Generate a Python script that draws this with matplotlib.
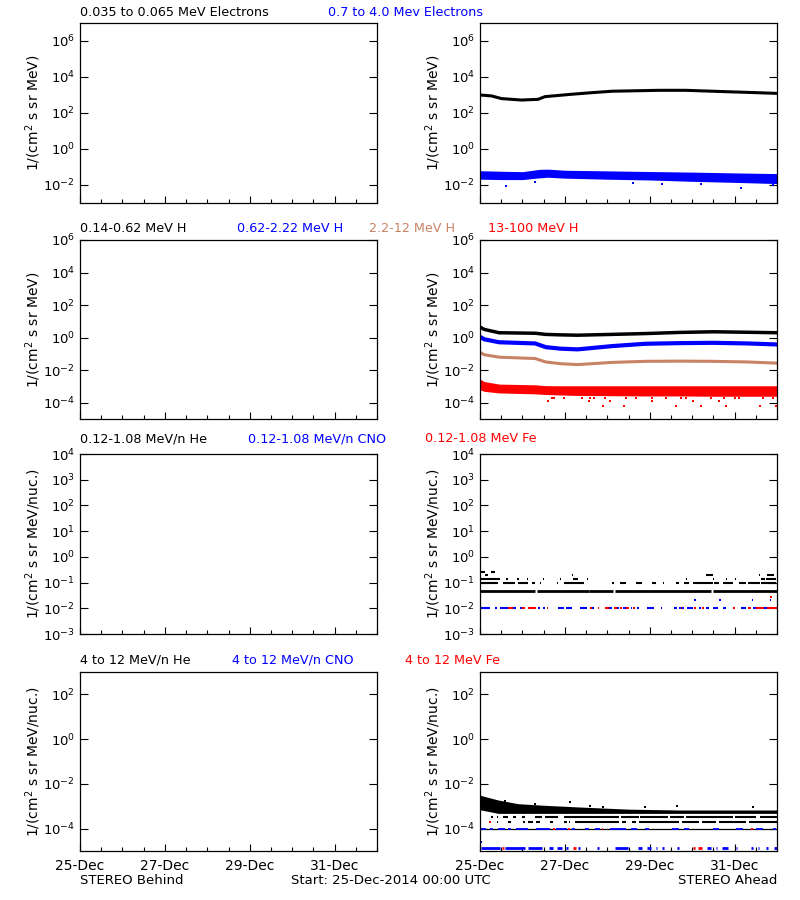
import matplotlib
matplotlib.use("Agg")
import matplotlib.pyplot as plt
from matplotlib.ticker import MultipleLocator, NullLocator

BLUE = "#0000ff"
RED = "#ff0000"
BROWN = "#c88264"

# x axis: days since 25-Dec-2014 00:00 UTC
xtick_days = [0, 2, 4, 6]
xtick_labels = ["25-Dec", "27-Dec", "29-Dec", "31-Dec"]

row_titles = [
    ["0.035 to 0.065 MeV Electrons", "0.7 to 4.0 Mev Electrons"],
    ["0.14-0.62 MeV H", "0.62-2.22 MeV H", "2.2-12 MeV H", "13-100 MeV H"],
    ["0.12-1.08 MeV/n He", "0.12-1.08 MeV/n CNO", "0.12-1.08 MeV Fe"],
    ["4 to 12 MeV/n He", "4 to 12 MeV/n CNO", "4 to 12 MeV Fe"],
]
row_title_colors = [
    ["black", BLUE],
    ["black", BLUE, BROWN, RED],
    ["black", BLUE, RED],
    ["black", BLUE, RED],
]
row_ylabels = ["1/(cm$^2$ s sr MeV)", "1/(cm$^2$ s sr MeV)",
               "1/(cm$^2$ s sr MeV/nuc.)", "1/(cm$^2$ s sr MeV/nuc.)"]
row_ylims = [(1e-3, 1e7), (1e-5, 1e6), (1e-3, 1e4), (1e-5, 1e3)]
row_yexp = [[-2, 0, 2, 4, 6], [-4, -2, 0, 2, 4, 6],
            [-3, -2, -1, 0, 1, 2, 3, 4], [-4, -2, 0, 2]]

# ---- row 1: electrons (STEREO Ahead) ----
e_lo_days = [0.0, 0.27, 0.51, 0.98, 1.37, 1.53, 2.16, 2.64, 3.11, 4.22, 4.85, 5.72, 6.51, 7.0]
e_lo_flux = [1000, 890, 630, 525, 575, 810, 1100, 1350, 1620, 1820, 1820, 1550, 1350, 1230]

e_hi_days = [0.0, 0.5, 1.0, 1.4, 1.6, 2.0, 3.0, 4.0, 5.0, 6.0, 7.0]
e_hi_upper = [0.062, 0.058, 0.055, 0.074, 0.076, 0.066, 0.061, 0.056, 0.052, 0.047, 0.043]
e_hi_lower = [0.021, 0.020, 0.020, 0.025, 0.027, 0.024, 0.021, 0.019, 0.016, 0.014, 0.012]
e_hi_out_days = [0.62, 1.30, 3.60, 4.28, 5.20, 6.14, 6.90]
e_hi_out_flux = [0.0089, 0.014, 0.013, 0.012, 0.012, 0.0066, 0.010]

# ---- row 2: protons ----
h_days = [0.0, 0.1, 0.45, 1.3, 1.55, 1.9, 2.3, 3.1, 3.9, 4.7, 5.5, 6.3, 7.0]
h1_flux = [4.5, 3.2, 2.0, 1.86, 1.58, 1.48, 1.41, 1.58, 1.78, 2.09, 2.29, 2.14, 2.0]
h2_flux = [1.12, 0.79, 0.52, 0.44, 0.26, 0.21, 0.19, 0.30, 0.42, 0.46, 0.48, 0.44, 0.38]
h3_flux = [0.126, 0.089, 0.063, 0.052, 0.032, 0.025, 0.022, 0.030, 0.035, 0.036, 0.035, 0.032, 0.027]
h4_upper = [2.8e-3, 2.0e-3, 1.4e-3, 1.26e-3, 1.12e-3, 1.1e-3, 1.1e-3, 1.1e-3, 1.1e-3, 1.1e-3, 1.1e-3, 1.1e-3, 1.1e-3]
h4_lower = [6.3e-4, 5.0e-4, 4.0e-4, 3.5e-4, 3.2e-4, 3.0e-4, 2.8e-4, 2.7e-4, 2.6e-4, 2.6e-4, 2.5e-4, 2.5e-4, 2.5e-4]
h4_out_days = [1.69, 1.75, 1.97, 2.40, 2.60, 2.68, 2.95, 3.43, 3.67, 4.06, 4.38, 4.73, 4.85,
               5.44, 5.76, 6.00, 6.11, 6.67, 6.90,
               1.61, 2.56, 3.07, 4.06, 5.01, 5.64,
               2.89, 3.40, 4.61, 5.21, 5.80, 6.59, 6.98]
h4_out_flux = [1.9e-4] * 19 + [1.2e-4] * 6 + [6e-5] * 7

# ---- row 3: 0.12-1.08 MeV/n ions, quantised count levels as (start, end) day segments ----
he3_solid_level = 0.048
he3_solid = [(0.01, 1.30), (1.34, 2.56), (2.58, 3.13), (3.18, 5.44), (5.48, 7.0)]
he3_dots_level = 0.093
he3_dots = [(0.03, 0.43), (0.55, 0.82), (0.90, 1.14), (1.22, 1.30), (1.41, 1.44), (1.81, 1.85),
            (1.97, 2.44), (3.11, 3.15), (3.31, 3.43), (3.67, 3.82), (4.06, 4.14), (4.32, 4.34),
            (4.61, 4.69), (4.81, 4.93), (5.01, 5.48), (5.52, 5.64), (5.72, 5.96), (6.11, 6.27),
            (6.31, 6.59), (6.63, 6.98)]
he3_sparse_level1 = 0.14
he3_sparse1 = [(0.03, 0.47), (0.62, 0.65), (0.88, 0.92), (1.10, 1.14), (1.49, 1.52), (1.89, 1.92),
               (2.20, 2.32), (2.52, 2.55), (4.85, 4.88), (5.48, 5.51), (5.80, 5.83), (6.00, 6.03),
               (6.63, 6.71), (6.75, 6.98)]
he3_sparse_level2 = 0.19
he3_sparse2 = [(0.11, 0.19), (2.16, 2.19), (5.32, 5.48), (6.57, 6.60), (6.76, 6.94)]
he3_sparse_level3 = 0.26
he3_sparse3 = [(0.03, 0.11), (0.27, 0.35)]

cno3_level = 0.0102
cno3 = [(0.03, 0.23), (0.35, 0.39), (0.47, 0.66), (0.78, 0.86), (0.94, 0.98), (1.37, 1.41),
        (1.49, 1.53), (1.85, 1.97), (2.02, 2.18), (2.36, 2.52), (2.64, 2.68), (2.99, 3.11),
        (3.23, 3.27), (3.37, 3.44), (3.55, 3.59), (3.70, 3.74), (3.94, 4.10), (4.26, 4.30),
        (4.57, 4.65), (4.69, 4.81), (4.89, 5.01), (5.17, 5.21), (5.32, 5.40), (5.48, 5.60),
        (5.72, 5.80), (6.15, 6.27), (6.43, 6.59), (6.70, 6.76)]
fe3 = [(0.66, 0.78), (0.98, 1.06), (1.12, 1.33), (1.57, 1.61), (2.60, 2.64), (2.77, 2.81),
       (2.95, 3.03), (3.15, 3.23), (3.31, 3.35), (3.45, 3.50), (3.60, 3.65), (4.73, 4.77),
       (5.05, 5.09), (5.24, 5.28), (5.96, 6.00), (6.31, 6.39), (6.51, 6.70), (6.76, 7.0)]
cno3_level2 = 0.021
cno3_high = [(5.05, 5.08), (5.64, 5.67), (6.41, 6.44), (6.84, 6.87)]
fe3_level2 = 0.027
fe3_high = [(6.84, 6.89)]

# ---- row 4: 4-12 MeV/n ions ----
he4_days = [0.0, 0.03, 0.43, 0.90, 1.53, 2.32, 3.51, 4.69, 7.0]
he4_upper = [3.2e-3, 3.0e-3, 1.9e-3, 1.3e-3, 1.1e-3, 9.3e-4, 7.4e-4, 6.8e-4, 6.8e-4]
he4_lower = [6.8e-4, 6.8e-4, 4.8e-4, 4.8e-4, 4.8e-4, 4.8e-4, 4.8e-4, 4.8e-4, 4.8e-4]
he4_out_days = [0.58, 1.30, 2.13, 2.60, 2.90, 3.90, 4.65, 6.43]
he4_out_flux = [1.7e-3, 1.3e-3, 1.6e-3, 1.05e-3, 9e-4, 9.5e-4, 1.05e-3, 9e-4]
he4_row1_level = 3.2e-4
he4_row1 = [(0.27, 0.31), (0.39, 0.43), (0.55, 0.66), (0.78, 0.86), (0.98, 1.06), (1.30, 1.45),
            (1.53, 1.85), (1.97, 3.27), (3.33, 3.74), (3.78, 4.42), (4.47, 4.81), (4.85, 5.96),
            (6.02, 6.51), (6.59, 7.0)]
he4_row2_level = 2.0e-4
he4_row2 = [(0.39, 0.43), (0.51, 0.53), (0.66, 0.74), (1.02, 1.06), (1.14, 1.26), (1.33, 1.41),
            (1.65, 1.73), (1.97, 2.05), (2.09, 2.12), (2.24, 3.27), (3.35, 3.43), (3.59, 3.67),
            (3.74, 4.69), (4.77, 5.17), (5.24, 5.56), (5.64, 6.27), (6.35, 7.0)]
base4_level = 1.0e-4
cno4_base = [(0.02, 0.15), (0.23, 0.31), (0.43, 0.58), (0.66, 0.74), (0.86, 1.14), (1.33, 1.65),
             (1.78, 2.05), (2.16, 2.24), (2.48, 2.56), (2.72, 2.84), (3.07, 3.43), (3.55, 3.70),
             (3.90, 3.98), (4.53, 4.69), (4.81, 4.93), (5.48, 5.64), (6.03, 6.19), (6.51, 6.67),
             (6.90, 6.98)]
fe4_base = [(1.73, 1.77), (2.07, 2.11), (2.88, 2.91), (6.39, 6.43)]
low4_level = 1.3e-5
cno4_low = [(0.02, 0.47), (0.58, 1.06), (1.12, 1.45), (1.63, 1.73), (1.81, 1.93), (2.02, 2.07),
            (2.32, 2.36), (2.76, 2.80), (3.19, 3.49), (3.73, 3.82), (3.94, 4.02), (4.14, 4.17),
            (4.30, 4.33), (4.65, 4.68), (5.34, 5.44), (5.56, 5.59), (5.70, 5.84), (6.03, 6.06),
            (6.39, 6.43), (6.55, 6.58), (6.75, 6.78), (6.94, 7.0)]
fe4_low = [(0.51, 0.57), (2.20, 2.26), (5.01, 5.07), (5.13, 5.24)]
cno4_pt_day, cno4_pt_flux = 0.02, 2.6e-5
fe4_pt_day, fe4_pt_flux = 0.23, 2.0e-4


def draw_segments(ax, level, segs, color, lw=1.5):
    starts = [s for s, e in segs]
    ends = [e for s, e in segs]
    ax.hlines([level] * len(segs), starts, ends, colors=color, linewidth=lw)


def style_axes(ax, row, bottom_row):
    ax.set_yscale("log")
    ax.set_xlim(0, 7)
    ax.set_ylim(*row_ylims[row])
    exps = row_yexp[row]
    ax.set_yticks([10.0 ** e for e in exps])
    ax.set_yticklabels(["$10^{%d}$" % e for e in exps])
    ax.yaxis.set_minor_locator(NullLocator())
    ax.set_xticks(xtick_days)
    ax.set_xticklabels(xtick_labels)
    ax.xaxis.set_minor_locator(MultipleLocator(0.5))
    ax.tick_params(axis="y", which="major", direction="in", length=6, width=0.8,
                   left=True, right=True, labelsize=9.5)
    ax.tick_params(axis="x", which="major", direction="in", length=5, width=0.8,
                   top=False, labelsize=10, labelbottom=bottom_row, pad=6)
    ax.tick_params(axis="x", which="minor", direction="in", length=3, width=0.8, top=False)
    for sp in ax.spines.values():
        sp.set_linewidth(0.9)


fig = plt.figure(figsize=(8, 9), dpi=100)
W, H = 800.0, 900.0
row_px = [(23, 203), (240, 419), (454, 634), (672, 851)]
col_px = [(80, 377), (480, 777)]
title_x_px = [[80, 328], [80, 237, 369, 488], [80, 248, 425], [80, 232, 405]]
title_y_px = [12, 228, 439, 660]

axes = []
for r, (top, bot) in enumerate(row_px):
    row_axes = []
    for c, (left, right) in enumerate(col_px):
        ax = fig.add_axes([left / W, 1 - bot / H, (right - left) / W, (bot - top) / H])
        style_axes(ax, r, r == 3)
        fig.text((left - 47) / W, 1 - (top + bot) / 2 / H, row_ylabels[r], rotation=90,
                 ha="center", va="center", fontsize=10)
        row_axes.append(ax)
    axes.append(row_axes)
    for txt, col, xp in zip(row_titles[r], row_title_colors[r], title_x_px[r]):
        fig.text(xp / W, 1 - title_y_px[r] / H, txt, color=col, ha="left", va="center",
                 fontsize=9.2)

# row 1
ax = axes[0][1]
ax.plot(e_lo_days, e_lo_flux, color="black", lw=2.2)
ax.fill_between(e_hi_days, e_hi_lower, e_hi_upper, color=BLUE, lw=0)
ax.plot(e_hi_out_days, e_hi_out_flux, "s", color=BLUE, ms=1.6, mew=0)

# row 2
ax = axes[1][1]
ax.plot(h_days, h1_flux, color="black", lw=2.5)
ax.plot(h_days, h2_flux, color=BLUE, lw=3)
ax.plot(h_days, h3_flux, color=BROWN, lw=2.2)
ax.fill_between(h_days, h4_lower, h4_upper, color=RED, lw=0)
ax.plot(h4_out_days, h4_out_flux, "s", color=RED, ms=1.6, mew=0)

# row 3
ax = axes[2][1]
draw_segments(ax, he3_solid_level, he3_solid, "black", lw=2)
draw_segments(ax, he3_dots_level, he3_dots, "black")
draw_segments(ax, he3_sparse_level1, he3_sparse1, "black")
draw_segments(ax, he3_sparse_level2, he3_sparse2, "black")
draw_segments(ax, he3_sparse_level3, he3_sparse3, "black")
draw_segments(ax, cno3_level, cno3, BLUE)
draw_segments(ax, cno3_level, fe3, RED)
draw_segments(ax, cno3_level2, cno3_high, BLUE)
draw_segments(ax, fe3_level2, fe3_high, RED)

# row 4
ax = axes[3][1]
ax.fill_between(he4_days, he4_lower, he4_upper, color="black", lw=0)
ax.plot(he4_out_days, he4_out_flux, "s", color="black", ms=1.6, mew=0)
draw_segments(ax, he4_row1_level, he4_row1, "black")
draw_segments(ax, he4_row2_level, he4_row2, "black")
ax.hlines(base4_level, 0, 7, colors="black", linewidth=0.9)
draw_segments(ax, base4_level, cno4_base, BLUE, lw=1.3)
draw_segments(ax, base4_level, fe4_base, RED, lw=1.3)
draw_segments(ax, low4_level, cno4_low, BLUE, lw=2)
draw_segments(ax, low4_level, fe4_low, RED, lw=2)
ax.plot([cno4_pt_day], [cno4_pt_flux], "s", color=BLUE, ms=1.8, mew=0)
ax.plot([fe4_pt_day], [fe4_pt_flux], "s", color=RED, ms=1.8, mew=0)

fig.text(80 / W, 1 - 881 / H, "STEREO Behind", ha="left", va="center", fontsize=9.5)
fig.text(291 / W, 1 - 881 / H, "Start: 25-Dec-2014 00:00 UTC", ha="left", va="center",
         fontsize=9.5)
fig.text(777 / W, 1 - 881 / H, "STEREO Ahead", ha="right", va="center", fontsize=9.5)

fig.savefig("out.png", dpi=100)
